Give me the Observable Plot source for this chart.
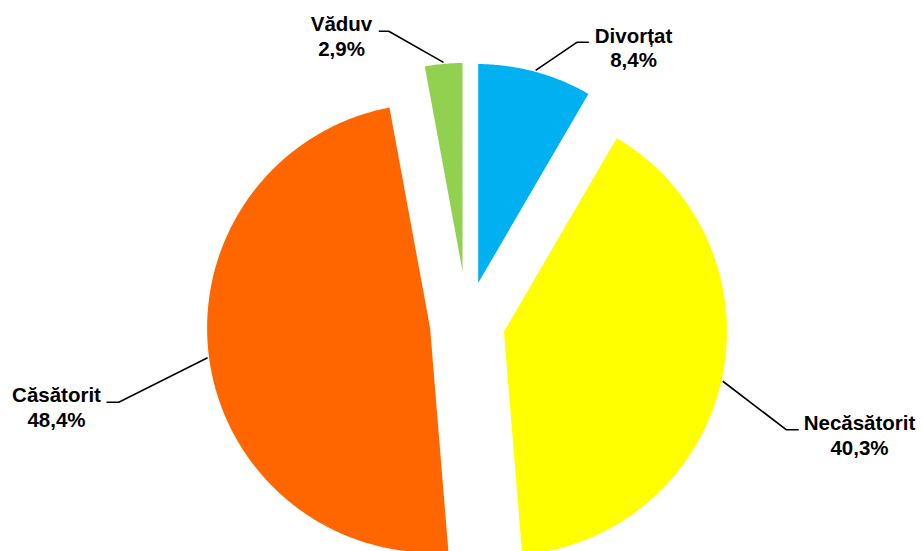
<!DOCTYPE html>
<html>
<head>
<meta charset="utf-8">
<script src="https://cdn.jsdelivr.net/npm/d3@7"></script>
<script src="https://cdn.jsdelivr.net/npm/@observablehq/plot@0.6"></script>
<style>
  html, body { margin: 0; padding: 0; background: #ffffff; }
  #chart { width: 923px; height: 551px; overflow: hidden; }
</style>
</head>
<body>
<div id="chart"></div>
<script>
// ---- data ----
const categories = ["Divorțat", "Necăsătorit", "Căsătorit", "Văduv"];
const values = [8.4, 40.3, 48.4, 2.9];
const valueLabels = ["8,4%", "40,3%", "48,4%", "2,9%"];
const colors = ["#00B0F0", "#FFFF00", "#FF6600", "#92D050"];

// ---- layout (pixels) ----
const W = 923, H = 551;
const cx = 466.8, cy = 322.8, R = 226, explode = 36;
// leader elbow / end of horizontal tick, and label centre (x) + baseline of last line (y)
const labelLayout = [
  {elbow: [576.7, 41.7], end: [588.3, 41.7], text: [633, 66.7]},
  {elbow: [786, 429.3], end: [798.3, 429.3], text: [859, 454.3]},
  {elbow: [118.3, 401.7], end: [106, 401.7], text: [56, 426]},
  {elbow: [388.3, 30.7], end: [378.3, 30.7], text: [341, 55]}
];

const arcs = d3.pie().sort(null).startAngle(0).endAngle(2 * Math.PI)(values);

const slicePts = [];
const leaderPts = [];
const labels = [];
arcs.forEach((a, i) => {
  const mid = (a.startAngle + a.endAngle) / 2;
  const ox = cx + explode * Math.sin(mid);
  const oy = cy - explode * Math.cos(mid);
  const name = categories[i];
  slicePts.push({name, x: ox, y: oy});
  const steps = Math.max(4, Math.ceil((a.endAngle - a.startAngle) / (Math.PI / 360)));
  for (let k = 0; k <= steps; k++) {
    const t = a.startAngle + (a.endAngle - a.startAngle) * k / steps;
    slicePts.push({name, x: ox + R * Math.sin(t), y: oy - R * Math.cos(t)});
  }
  const L = labelLayout[i];
  leaderPts.push({name, x: ox + R * Math.sin(mid), y: oy - R * Math.cos(mid)});
  leaderPts.push({name, x: L.elbow[0], y: L.elbow[1]});
  leaderPts.push({name, x: L.end[0], y: L.end[1]});
  labels.push({name, x: L.text[0], y: L.text[1], text: name + "\n" + valueLabels[i]});
});

const chart = Plot.plot({
  width: W,
  height: H,
  margin: 0,
  style: {background: "#ffffff", fontFamily: "'Liberation Sans', Arial, sans-serif"},
  x: {domain: [0, W], range: [0, W], axis: null},
  y: {domain: [0, H], range: [0, H], axis: null},
  color: {domain: categories, range: colors},
  marks: [
    Plot.line(slicePts, {
      x: "x", y: "y", z: "name", fill: "name",
      stroke: "#ffffff", strokeWidth: 3, curve: "linear-closed"
    }),
    Plot.line(leaderPts, {
      x: "x", y: "y", z: "name", stroke: "#000000", strokeWidth: 1.6,
      strokeLinejoin: "miter", strokeLinecap: "butt"
    }),
    Plot.text(labels, {
      x: "x", y: "y", text: "text",
      fontSize: 20.5, fontWeight: "bold", fill: "#000000",
      textAnchor: "middle", lineAnchor: "bottom", lineHeight: 1.2
    })
  ]
});
document.getElementById("chart").appendChild(chart);
</script>
</body>
</html>
